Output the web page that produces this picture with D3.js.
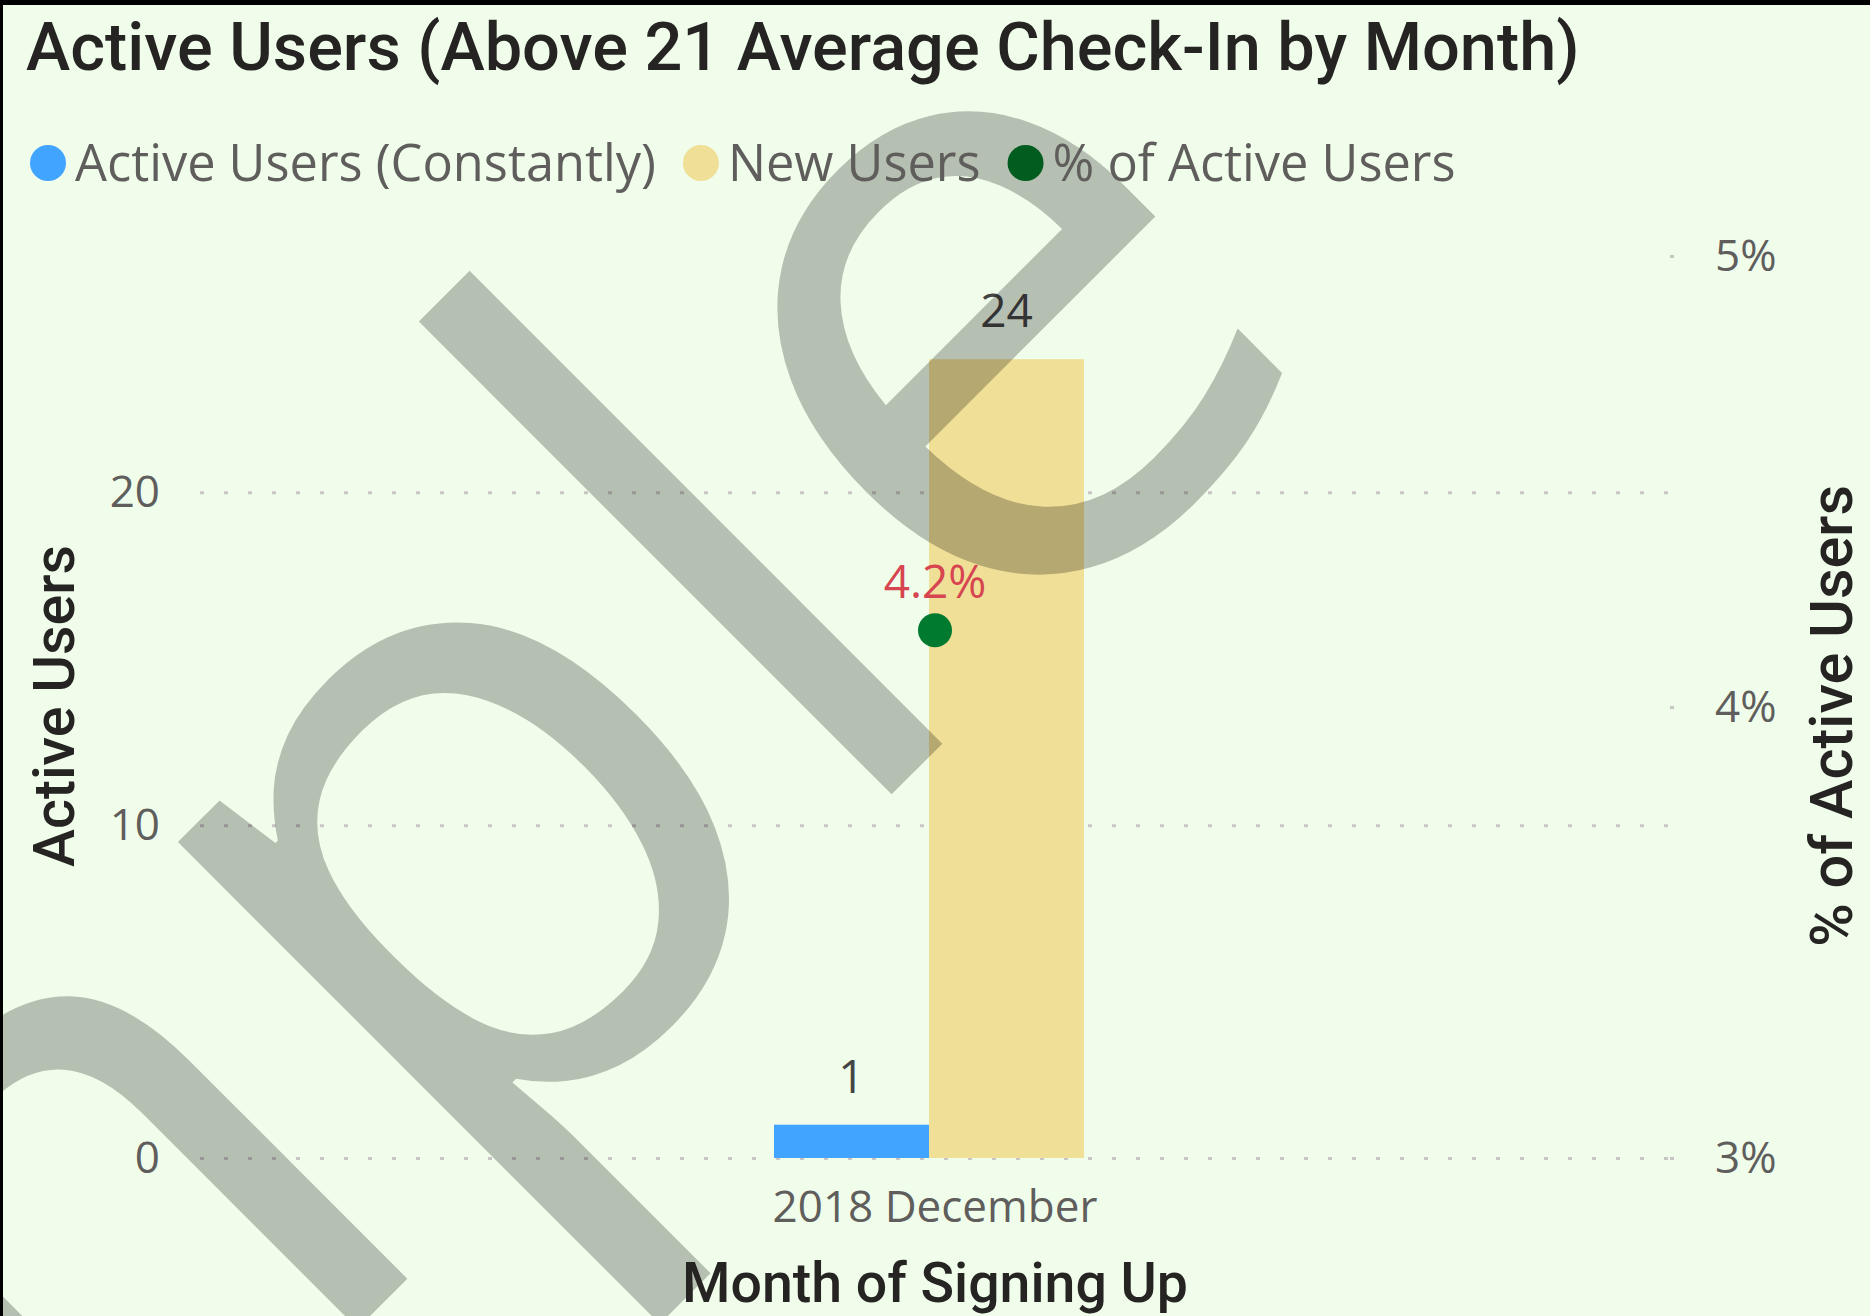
<!DOCTYPE html>
<html>
<head>
<meta charset="utf-8">
<script src="https://cdn.jsdelivr.net/npm/d3@7"></script>
<style>
  body { margin: 0; background: #000; }
  svg { display: block; }
</style>
</head>
<body>
<svg id="chart"></svg>
<script>
// Data
var months = ["2018 December"];
var seriesNames = ["Active Users (Constantly)", "New Users", "% of Active Users"];
var activeConstantly = [1];
var newUsers = [24];
var pctActive = [0.0417];
var leftTicks = [0, 10, 20];
var rightTicks = [0.03, 0.04, 0.05];
var seriesColors = ["#41A4FF", "#F0DF96", "#005C1F"];

var svgWidth = 1870;
var svgHeight = 1316;

// plot area
var plot = { left: 200, right: 1670, top: 256, bottom: 1158 };

var titleFont = "Roboto, 'DejaVu Sans Condensed', sans-serif";
var labelFont = "'Open Sans', 'Noto Sans', sans-serif";

var svg = d3.select("#chart")
  .attr("width", svgWidth)
  .attr("height", svgHeight);

// black frame on the top/left edge, then the light green card
svg.append("rect").attr("width", svgWidth).attr("height", svgHeight).attr("fill", "#000");
svg.append("rect")
  .attr("x", 3).attr("y", 5)
  .attr("width", svgWidth - 3).attr("height", svgHeight - 5)
  .attr("fill", "#F0FDEB");

// shrink/grow a text's font so its width matches the reference
function fitWidth(sel, target) {
  var w = sel.node().getComputedTextLength();
  var fs = parseFloat(sel.attr("font-size")) * target / w;
  sel.attr("font-size", fs);
  return fs;
}

// Scales
var x = d3.scaleBand()
  .domain(months)
  .range([plot.left, plot.right])
  .paddingInner(0)
  .paddingOuter(1.871);

var xSub = d3.scaleBand()
  .domain([0, 1])
  .range([0, x.bandwidth()]);

var yLeft = d3.scaleLinear()
  .domain([0, 27.1])
  .range([plot.bottom, plot.top]);

var yRight = d3.scaleLinear()
  .domain([0.03, 0.05])
  .range([plot.bottom, plot.top]);

// Gridlines (dotted) from the left axis
var grid = svg.append("g")
  .attr("transform", `translate(${plot.left}, 0)`)
  .call(d3.axisLeft(yLeft).tickValues(leftTicks).tickSize(-(plot.right - plot.left)).tickFormat(""));
grid.select(".domain").remove();
grid.selectAll("line")
  .attr("stroke", "#C8C6C4")
  .attr("stroke-width", 3)
  .attr("stroke-dasharray", "4 20");

// tiny dot marks of the right axis
var rightMarks = svg.append("g")
  .attr("transform", `translate(${plot.right}, 0)`)
  .call(d3.axisRight(yRight).tickValues(rightTicks).tickSize(4).tickFormat(""));
rightMarks.select(".domain").remove();
rightMarks.selectAll("line").attr("stroke", "#C8C6C4").attr("stroke-width", 3);

// Bars
var barData = months.map(function(m, i) {
  return [
    { month: m, k: 0, value: activeConstantly[i] },
    { month: m, k: 1, value: newUsers[i] }
  ];
});

var groups = svg.selectAll(".grp")
  .data(barData)
  .enter()
  .append("g")
  .attr("class", "grp")
  .attr("transform", d => `translate(${x(d[0].month) - 6}, 0)`);

groups.selectAll("rect")
  .data(d => d)
  .enter()
  .append("rect")
  .attr("x", d => xSub(d.k))
  .attr("width", xSub.bandwidth())
  .attr("y", d => yLeft(d.value))
  .attr("height", d => yLeft(0) - yLeft(d.value))
  .attr("fill", d => seriesColors[d.k]);

// "Sample" watermark over the plot
var wm = svg.append("g")
  .attr("transform", "translate(917, 769) rotate(-45)");
var wmText = wm.append("text")
  .attr("font-family", labelFont)
  .attr("font-size", 880)
  .attr("fill", "#000")
  .attr("fill-opacity", 0.245)
  .text("Sample");
var lBox = wmText.node().getExtentOfChar(4);
wmText.attr("x", -(lBox.x + lBox.width / 2));

// Line series point
var pts = svg.selectAll(".pt")
  .data(months.map((m, i) => ({ month: m, value: pctActive[i] })))
  .enter();

pts.append("circle")
  .attr("cx", d => x(d.month) + x.bandwidth() / 2)
  .attr("cy", d => yRight(d.value))
  .attr("r", 17)
  .attr("fill", "#007A2E");

// Axis tick labels
var tickSize = 44;

var leftAxis = svg.append("g")
  .attr("transform", `translate(${plot.left}, 0)`)
  .call(d3.axisLeft(yLeft).tickValues(leftTicks).tickSize(0).tickPadding(40));
leftAxis.select(".domain").remove();

var rightAxis = svg.append("g")
  .attr("transform", `translate(${plot.right}, 0)`)
  .call(d3.axisRight(yRight).tickValues(rightTicks).tickSize(0).tickPadding(45)
    .tickFormat(d3.format(".0%")));
rightAxis.select(".domain").remove();

var bottomAxis = svg.append("g")
  .attr("transform", `translate(0, ${plot.bottom})`)
  .call(d3.axisBottom(x).tickSize(0).tickPadding(33));
bottomAxis.select(".domain").remove();

svg.selectAll(".tick text")
  .attr("font-family", labelFont)
  .attr("font-size", tickSize)
  .attr("fill", "#605E5C");

// Data labels
var dataLabelSize = 46;
groups.selectAll(".lbl")
  .data(d => d)
  .enter()
  .append("text")
  .attr("x", d => xSub(d.k) + xSub.bandwidth() / 2)
  .attr("y", d => yLeft(d.value) - 32)
  .attr("text-anchor", "middle")
  .attr("font-family", labelFont)
  .attr("font-size", dataLabelSize)
  .attr("fill", "#444")
  .text(d => d.value);

pts.append("text")
  .attr("x", d => x(d.month) + x.bandwidth() / 2)
  .attr("y", d => yRight(d.value) - 32)
  .attr("text-anchor", "middle")
  .attr("font-family", labelFont)
  .attr("font-size", dataLabelSize)
  .attr("fill", "#D64550")
  .text(d => d3.format(".1%")(d.value));

// Title
var title = svg.append("text")
  .attr("x", 26)
  .attr("y", 70)
  .attr("font-family", titleFont)
  .attr("font-weight", 500)
  .attr("font-size", 60)
  .attr("fill", "#252423")
  .text("Active Users (Above 21 Average Check-In by Month)");
fitWidth(title, 1554);

// Axis titles
var xTitle = svg.append("text")
  .attr("x", (plot.left + plot.right) / 2)
  .attr("y", 1302)
  .attr("text-anchor", "middle")
  .attr("font-family", titleFont)
  .attr("font-weight", 500)
  .attr("font-size", 50)
  .attr("fill", "#252423")
  .text("Month of Signing Up");
fitWidth(xTitle, 506);

var yTitleL = svg.append("text")
  .attr("transform", "translate(74, 706) rotate(-90)")
  .attr("text-anchor", "middle")
  .attr("font-family", titleFont)
  .attr("font-weight", 500)
  .attr("font-size", 50)
  .attr("fill", "#252423")
  .text("Active Users");
fitWidth(yTitleL, 322);

var yTitleR = svg.append("text")
  .attr("transform", "translate(1852, 716) rotate(-90)")
  .attr("text-anchor", "middle")
  .attr("font-family", titleFont)
  .attr("font-weight", 500)
  .attr("font-size", 50)
  .attr("fill", "#252423")
  .text("% of Active Users");
fitWidth(yTitleR, 462);

// Legend
var legend = svg.append("g");
var legendX = 30;
var legendSize = 50;
seriesNames.forEach(function(name, i) {
  legend.append("circle")
    .attr("cx", legendX + 18)
    .attr("cy", 163)
    .attr("r", 18)
    .attr("fill", seriesColors[i]);
  var t = legend.append("text")
    .attr("x", legendX + 45)
    .attr("y", 181)
    .attr("font-family", labelFont)
    .attr("font-size", legendSize)
    .attr("fill", "#605E5C")
    .text(name);
  if (i === 0) {
    legendSize = fitWidth(t, 581);
  }
  legendX = legendX + 45 + t.node().getComputedTextLength() + 27;
});
</script>
</body>
</html>
